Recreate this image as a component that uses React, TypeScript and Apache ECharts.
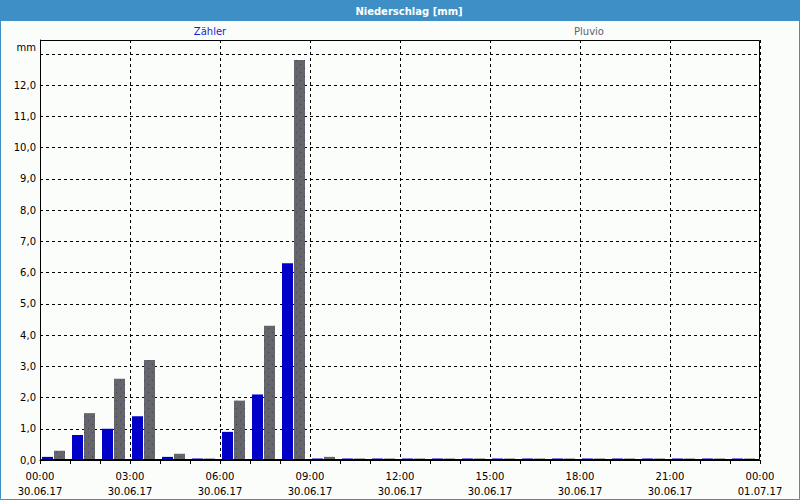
import React, { useEffect, useRef } from "react";
import * as echarts from "echarts";

const hours: string[] = [
  "00", "01", "02", "03", "04", "05", "06", "07", "08", "09", "10", "11",
  "12", "13", "14", "15", "16", "17", "18", "19", "20", "21", "22", "23",
];
const zaehler: number[] = [
  0.1, 0.8, 1.0, 1.4, 0.1, 0.0, 0.9, 2.1, 6.3, 0.0, 0.0, 0.0,
  0.0, 0.0, 0.0, 0.0, 0.0, 0.0, 0.0, 0.0, 0.0, 0.0, 0.0, 0.0,
];
const pluvio: number[] = [
  0.3, 1.5, 2.6, 3.2, 0.2, 0.0, 1.9, 4.3, 12.8, 0.1, 0.0, 0.0,
  0.0, 0.0, 0.0, 0.0, 0.0, 0.0, 0.0, 0.0, 0.0, 0.0, 0.0, 0.0,
];
const xTimeLabels: string[] = ["00:00", "03:00", "06:00", "09:00", "12:00", "15:00", "18:00", "21:00", "00:00"];
const xDateLabels: string[] = ["30.06.17", "30.06.17", "30.06.17", "30.06.17", "30.06.17", "30.06.17", "30.06.17", "30.06.17", "01.07.17"];
const yMax = 13.44;

const FONT = "DejaVu Sans";

export default function App() {
  const ref = useRef<HTMLDivElement>(null);
  useEffect(() => {
    document.body.style.margin = "0";
    const chart = echarts.init(ref.current!, null, { renderer: "svg" });
    const gridLine = { show: true, lineStyle: { color: "#000", type: [3, 3] as any, width: 1 } };
    chart.setOption({
      animation: false,
      backgroundColor: "#fbfdfb",
      textStyle: { fontFamily: FONT },
      grid: [
        { left: 40, top: 40, width: 720, height: 420 },
        { left: 38.5, top: 40, width: 720, height: 420 },
      ],
      xAxis: [
        {
          type: "value",
          gridIndex: 0,
          min: 0,
          max: 24,
          interval: 3,
          axisLine: { show: true, lineStyle: { color: "#000" } },
          axisTick: { show: true, length: 4, lineStyle: { color: "#000" } },
          minorTick: { show: true, splitNumber: 3, length: 4, lineStyle: { color: "#000" } },
          splitLine: gridLine,
          axisLabel: {
            color: "#000",
            fontFamily: FONT,
            fontSize: 10,
            margin: 9,
            lineHeight: 15,
            formatter: (v: number) => {
              const i = Math.round(v / 3);
              return xTimeLabels[i] + "\n" + xDateLabels[i];
            },
          },
        },
        {
          type: "category",
          gridIndex: 1,
          data: hours,
          show: false,
          boundaryGap: true,
        },
      ],
      yAxis: [
        {
          type: "value",
          gridIndex: 0,
          min: 0,
          max: yMax,
          interval: 1,
          axisLine: { show: true, lineStyle: { color: "#000" } },
          axisTick: { show: false },
          splitLine: gridLine,
          axisLabel: {
            color: "#000",
            fontFamily: FONT,
            fontSize: 10,
            margin: 4,
            showMaxLabel: false,
            formatter: (v: number) => (v > 12.5 ? "" : v.toFixed(1).replace(".", ",")),
          },
        },
        {
          type: "value",
          gridIndex: 1,
          min: 0,
          max: yMax,
          show: false,
          splitLine: { show: false },
        },
      ],
      series: [
        {
          name: "Zähler",
          type: "bar",
          xAxisIndex: 1,
          yAxisIndex: 1,
          data: zaehler,
          barWidth: 11,
          barGap: "9.1%",
          barMinHeight: 1.5,
          itemStyle: { color: "#0000c8" },
          z: 3,
        },
        {
          name: "Pluvio",
          type: "bar",
          xAxisIndex: 1,
          yAxisIndex: 1,
          data: pluvio,
          barWidth: 11,
          barMinHeight: 1.5,
          itemStyle: {
            color: "#666666",
            decal: {
              symbol: "rect",
              symbolSize: 1,
              color: "rgba(45,45,130,0.7)",
              dashArrayX: [[1, 7], [0, 4, 1, 3]],
              dashArrayY: [1, 3],
              rotation: 0,
            },
          },
          z: 3,
        },
      ],
      graphic: [
        {
          type: "rect",
          shape: { x: 0, y: 0, width: 800, height: 21 },
          style: { fill: "#3d8fc6" },
          silent: true,
          z: 10,
        },
        {
          type: "rect",
          shape: { x: 0.5, y: 0.5, width: 799, height: 499 },
          style: { fill: "none", stroke: "#3d8fc6", lineWidth: 1 },
          silent: true,
          z: 10,
        },
        {
          type: "text",
          x: 409,
          y: 11,
          style: {
            text: "Niederschlag [mm]",
            fill: "#fff",
            font: `bold 10px "${FONT}"`,
            align: "center",
            verticalAlign: "middle",
          },
          z: 11,
        },
        {
          type: "text",
          x: 210,
          y: 31,
          style: {
            text: "Zähler",
            fill: "#1c1cd0",
            font: `10px "${FONT}"`,
            align: "center",
            verticalAlign: "middle",
          },
        },
        {
          type: "text",
          x: 589,
          y: 31,
          style: {
            text: "Pluvio",
            fill: "#606078",
            font: `10px "${FONT}"`,
            align: "center",
            verticalAlign: "middle",
          },
        },
        {
          type: "text",
          x: 36,
          y: 47,
          style: {
            text: "mm",
            fill: "#000",
            font: `10px "${FONT}"`,
            align: "right",
            verticalAlign: "middle",
          },
        },
        {
          type: "rect",
          shape: { x: 40.5, y: 40.5, width: 719, height: 419 },
          style: { fill: "none", stroke: "#000", lineWidth: 1 },
          silent: true,
          z: 5,
        },
      ],
    });
    return () => chart.dispose();
  }, []);
  return <div ref={ref} style={{ width: 800, height: 500 }} />;
}
